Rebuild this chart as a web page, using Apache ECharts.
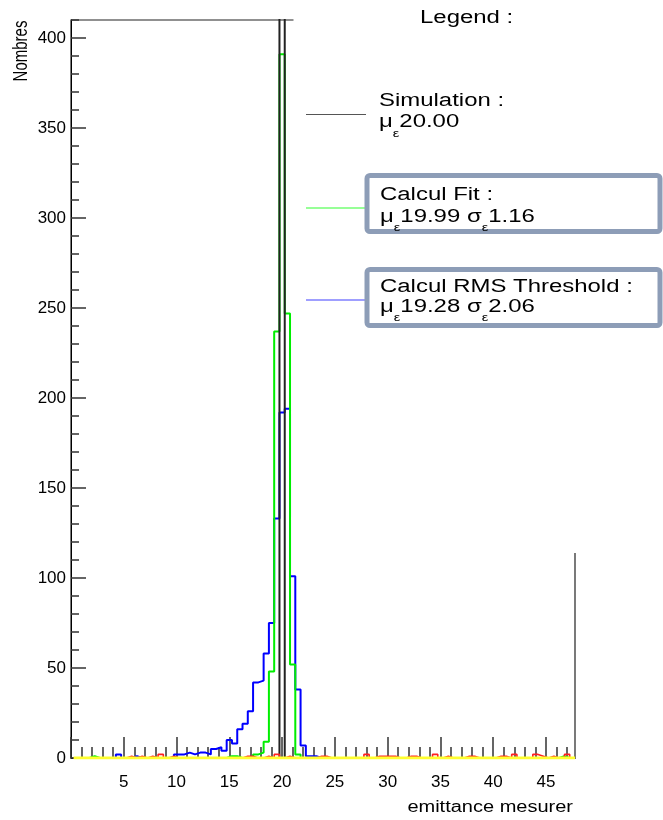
<!DOCTYPE html>
<html><head><meta charset="utf-8">
<script src="https://cdn.jsdelivr.net/npm/echarts@6/dist/echarts.min.js"></script>
<style>html,body{margin:0;padding:0;background:#fff}#c{width:663px;height:820px}</style>
</head><body><div id="c"></div>
<script>
// ---- data (bin centre, count); bins are 0.5 wide ----
const binWidth = 0.5;
const firstCenter = 0.5;
const lastCenter = 47.5;
const xMin = 0, xMax = 47.75, yMin = 0, yMax = 410;
const xTickLabels = [5, 10, 15, 20, 25, 30, 35, 40, 45];
const xMajorTicks = [0, 5, 10, 15, 20, 25, 30, 35, 40, 45];
const xMinorTicks = [1,2,3,4,6,7,8,9,11,12,13,14,16,17,18,19,21,22,23,24,26,27,28,29,31,32,33,34,36,37,38,39,41,42,43,44,46,47];
const yTickLabels = [0, 50, 100, 150, 200, 250, 300, 350, 400];
const yMinorTicks = [10,20,30,40,60,70,80,90,110,120,130,140,160,170,180,190,210,220,230,240,260,270,280,290,310,320,330,340,360,370,380,390,410];

const simulationBins = [[20.0, 5000]];
const fitBins = [[2.0,1],[15.0,1],[15.5,1],[17.5,2],[18.0,3],[18.5,9],[19.0,48],[19.5,237],[20.0,391],[20.5,247],[21.0,52],[21.5,2],[46.5,1]];
const rmsBins = [[4.5,2],[6.0,1],[10.0,2],[10.5,2],[11.0,3],[11.5,2],[12.0,3],[12.5,3],[13.0,2],[13.5,5],[14.0,6],[14.5,4],[15.0,10],[15.5,8],[16.0,16],[16.5,19],[17.0,26],[17.5,42],[18.0,43],[18.5,58],[19.0,75],[19.5,133],[20.0,192],[20.5,194],[21.0,101],[21.5,38],[22.0,7],[22.5,1],[23.0,1]];
const redBins = [[5.5,1],[6.5,1],[7.5,1],[8.5,2],[9.5,1],[16.5,1],[17.0,1],[18.5,1],[19.5,2],[20.5,1],[23.5,1],[24.0,1],[28.0,2],[29.0,1],[29.5,1],[30.0,1],[30.5,1],[32.0,1],[32.5,1],[34.5,2],[35.5,1],[37.5,1],[38.0,1],[40.5,1],[41.0,1],[42.0,2],[44.0,2],[44.5,1],[45.5,1],[47.0,2]];
const yellowBins = [];

const legendTitle = 'Legend :';
const simTitle = 'Simulation :';
const simMu = '20.00';
const fitTitle = 'Calcul Fit :';
const fitMu = '19.99', fitSigma = '1.16';
const rmsTitle = 'Calcul RMS Threshold :';
const rmsMu = '19.28', rmsSigma = '2.06';
const xTitle = 'emittance mesurer';
const yTitle = 'Nombres';

// ---- build histogram outlines from bin contents ----
function outline(pairs) {
  const m = new Map(pairs.map(p => [p[0].toFixed(2), p[1]]));
  const n = Math.round((lastCenter - firstCenter) / binWidth) + 1;
  const pts = [[firstCenter - binWidth / 2, 0]];
  for (let i = 0; i < n; i++) {
    const c = firstCenter + i * binWidth;
    const v = m.get(c.toFixed(2)) || 0;
    pts.push([c - binWidth / 2, v], [c + binWidth / 2, v]);
  }
  pts.push([lastCenter + binWidth / 2, 0]);
  return pts;
}

const FONT = '"Liberation Sans", Arial, Helvetica, sans-serif';
function hist(name, pairs, color, width) {
  return { name, type: 'line', data: outline(pairs), symbol: 'none', animation: false,
    clip: true, lineStyle: { color, width }, xAxisIndex: 0, yAxisIndex: 0, silent: true };
}

const chart = echarts.init(document.getElementById('c'), null, { renderer: 'canvas' });
const rich = {
  m: { fontSize: 18, fontFamily: FONT, fill: '#000', lineHeight: 20 },
  s: { fontSize: 11, fontFamily: FONT, fill: '#000', lineHeight: 12, padding: [22, 0, 0, 0] }
};
function txt(x, y, text, opts) {
  return Object.assign({ type: 'text', x, y, z: 102, scaleX: 1.33,
    style: Object.assign({ text, fontSize: 18, fontFamily: FONT, fill: '#000', align: 'left', verticalAlign: 'middle' }, opts && opts.style || {}) },
    opts && opts.el || {});
}
function muLine(x, y, mu, sigma) {
  let t = '{m|μ}{s|ε}{m|' + mu + (sigma ? ' σ' : '') + '}';
  if (sigma) t += '{s|ε}{m|' + sigma + '}';
  return { type: 'text', x, y, z: 102, scaleX: 1.33,
    style: { text: t, rich, align: 'left', verticalAlign: 'middle' } };
}
function box(y, h) {
  return { type: 'rect', z: 101, shape: { x: 367, y, width: 293, height: h, r: 3 },
    style: { fill: '#fff', stroke: '#8d9db7', lineWidth: 5 } };
}
function sample(y, color) {
  return { type: 'line', z: 101, shape: { x1: 306, y1: y, x2: 366, y2: y }, style: { stroke: color, lineWidth: 1.2 } };
}
const tickStyle = { color: '#333', width: 1.5 };

chart.setOption({
  animation: false,
  backgroundColor: '#fff',
  grid: { left: 71, right: 88, top: 20, bottom: 62, show: true, borderColor: '#222', borderWidth: 1.2, containLabel: false, outerBoundsMode: 'none' },
  xAxis: [
    { type: 'value', min: xMin, max: xMax, position: 'bottom',
      axisLine: { show: true, lineStyle: { color: '#000', width: 1 } },
      axisTick: { show: true, inside: true, length: 21, customValues: xMajorTicks, lineStyle: tickStyle },
      axisLabel: { show: true, customValues: xTickLabels, fontSize: 17, fontFamily: FONT, color: '#000', margin: 16 },
      splitLine: { show: false } },
    { type: 'value', min: xMin, max: xMax, position: 'bottom',
      axisLine: { show: false },
      axisTick: { show: true, inside: true, length: 11, customValues: xMinorTicks, lineStyle: tickStyle },
      axisLabel: { show: false }, splitLine: { show: false } }
  ],
  yAxis: [
    { type: 'value', min: yMin, max: yMax, position: 'left',
      axisLine: { show: true, lineStyle: { color: '#000', width: 1 } },
      axisTick: { show: true, inside: true, length: 15, customValues: yTickLabels, lineStyle: tickStyle },
      axisLabel: { show: true, customValues: yTickLabels, fontSize: 17, fontFamily: FONT, color: '#000', margin: 5 },
      splitLine: { show: false } },
    { type: 'value', min: yMin, max: yMax, position: 'left',
      axisLine: { show: false },
      axisTick: { show: true, inside: true, length: 8, customValues: yMinorTicks, lineStyle: tickStyle },
      axisLabel: { show: false }, splitLine: { show: false } }
  ],
  series: [
    hist('Calcul RMS Threshold', rmsBins, '#0000ff', 2),
    hist('Calcul Fit', fitBins, '#00ee00', 2),
    hist('Simulation', simulationBins, '#222', 2),
    hist('Red', redBins, '#ff2020', 1.6),
    hist('Yellow', yellowBins, '#ffff30', 3)
  ],
  graphic: { elements: [
    { type: 'rect', z: 100, shape: { x: 293.5, y: 0, width: 380, height: 553 }, style: { fill: '#fff' } },
    txt(420, 18, legendTitle),
    sample(114.5, '#555'),
    txt(379, 101.5, simTitle),
    muLine(379, 122.5, simMu),
    sample(208, '#30ff30'),
    box(175.5, 56),
    txt(380, 195, fitTitle),
    muLine(380, 217, fitMu, fitSigma),
    sample(300, '#4040ff'),
    box(269.5, 56),
    txt(380, 287.5, rmsTitle),
    muLine(380, 307, rmsMu, rmsSigma),
    txt(573, 808, xTitle, { style: { fontSize: 16, align: 'right' }, el: { scaleX: 1.25 } }),
    { type: 'text', x: 21, y: 51, z: 102, rotation: Math.PI / 2, scaleY: 1.35,
      style: { text: yTitle, fontSize: 15, fontFamily: FONT, fill: '#000', align: 'center', verticalAlign: 'middle' } }
  ] }
});
</script></body></html>
